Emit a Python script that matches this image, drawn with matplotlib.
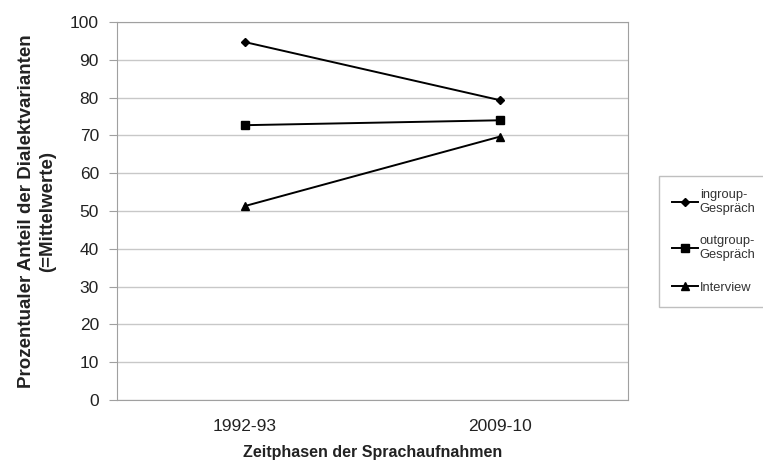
import matplotlib
matplotlib.use("Agg")
import matplotlib.pyplot as plt

plt.rcParams['font.family'] = ['Liberation Sans', 'DejaVu Sans']

phases = ["1992-93", "2009-10"]
ingroup = [94.7, 79.3]
outgroup = [72.7, 74.0]
interview = [51.3, 69.7]
series_labels = ["ingroup-\nGespräch", "outgroup-\nGespräch", "Interview"]
yticks = list(range(0, 101, 10))

fig = plt.figure(figsize=(7.63, 4.66), dpi=100)
ax = fig.add_axes([0.1533, 0.1416, 0.6697, 0.8112])

x = list(range(len(phases)))
h1, = ax.plot(x, ingroup, color='black', lw=1.4, marker='D', ms=4.5)
h2, = ax.plot(x, outgroup, color='black', lw=1.4, marker='s', ms=5.5)
h3, = ax.plot(x, interview, color='black', lw=1.4, marker='^', ms=6)

ax.set_xlim(-0.5, 1.5)
ax.set_ylim(0, 100)
ax.set_yticks(yticks)
ax.set_xticks(x)
ax.set_xticklabels(phases)
ax.yaxis.grid(True, color='#c8c8c8', lw=1)
ax.set_axisbelow(True)
for s in ax.spines.values():
    s.set_color('#a0a0a0')
ax.tick_params(axis='y', length=6, color='#a0a0a0', labelsize=12.5, pad=7, labelcolor='#222222')
ax.tick_params(axis='x', length=0, labelsize=12.5, pad=14, labelcolor='#222222')

ax.set_ylabel("Prozentualer Anteil der Dialektvarianten\n(=Mittelwerte)", fontsize=13.5,
              fontweight='bold', labelpad=10, linespacing=1.3, color='#222222')
fig.text((117 + 628) / 2 / 763, 1 - 452 / 466, "Zeitphasen der Sprachaufnahmen",
         ha='center', va='center', fontsize=11.5, fontweight='bold', color='#222222')

leg = fig.legend([h1, h2, h3], series_labels, loc='upper left',
                 bbox_to_anchor=(659 / 763, 1 - 176 / 466), bbox_transform=fig.transFigure,
                 fontsize=9.3, frameon=True, fancybox=False, handlelength=2.0,
                 handletextpad=0.15, labelspacing=1.6, borderpad=1.0, borderaxespad=0)
leg.get_frame().set_edgecolor('#b0b0b0')
leg.get_frame().set_linewidth(1)
for t in leg.get_texts():
    t.set_color('#333333')

fig.savefig("out.png", dpi=100)
